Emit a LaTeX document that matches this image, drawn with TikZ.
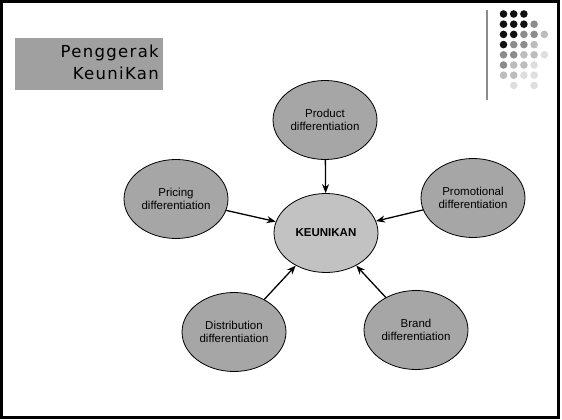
\documentclass[tikz,border=0pt]{standalone}
\usepackage{fontspec}
\setmainfont{Liberation Sans}
\newfontfamily\titlefont[LetterSpace=8]{DejaVu Sans}
\usetikzlibrary{shapes.geometric,arrows.meta}
\definecolor{ovalgray}{HTML}{A6A6A6}
\definecolor{coregray}{HTML}{C2C2C2}
\definecolor{boxgray}{HTML}{A0A0A0}
\definecolor{dotA}{HTML}{111111}
\definecolor{dotB}{HTML}{8C8C8C}
\definecolor{dotC}{HTML}{BDBDBD}
\definecolor{dotD}{HTML}{DEDEDE}
\tikzset{
  oval/.style={ellipse, draw=black, line width=0.8pt, fill=ovalgray,
    minimum width=104pt, minimum height=79pt, inner sep=0pt,
    align=center, font=\fontsize{11.5}{13.5}\selectfont},
  core/.style={oval, fill=coregray, font=\fontsize{11.5}{13.5}\selectfont\bfseries},
  link/.style={-{Stealth[length=9pt,width=7pt]}, line width=1.3pt},
  pix/.style={circle, inner sep=0pt, minimum size=7.6pt},
  headline/.style={anchor=base east, inner sep=0pt, font=\titlefont\fontsize{16.5}{22}\selectfont}
}
\begin{document}
\begin{tikzpicture}[x=1pt,y=-1pt]
\useasboundingbox (0,0) rectangle (562,420);
% slide frame
\draw[line width=3.2pt] (1.6,1.6) rectangle (558.4,417.6);
% title block
\node[fill=boxgray, minimum width=148pt, minimum height=52pt, inner sep=0pt]
  (titlebox) at (89,64) {};
\node[headline] (title1) at (159,58) {Penggerak};
\node[headline] (title2) at (159,80) {KeuniKan};
% corner ornament
\draw[color=dotB, line width=1.4pt] (487,10) coordinate (rulA) -- (487,100) coordinate (rulB);
\foreach \row/\cols in {
  0/{1/dotA,2/dotA,3/dotA},
  1/{1/dotA,2/dotA,3/dotA,4/dotB},
  2/{1/dotA,2/dotA,3/dotB,4/dotB,5/dotC},
  3/{1/dotA,2/dotB,3/dotB,4/dotC},
  4/{1/dotB,2/dotB,3/dotC,4/dotC,5/dotD},
  5/{1/dotB,2/dotC,3/dotC,4/dotD},
  6/{1/dotC,2/dotC,3/dotD,4/dotD},
  7/{2/dotD,4/dotD}}{
  \foreach \c/\col in \cols {
    \node[pix, fill=\col] (d\row-\c) at ({493.3+10.2*\c},{14+10.2*\row}) {};
  }
}
% diagram
\node[core] (keu) at (326,233) {KEUNIKAN};
\node[oval] (prod) at (325,120) {Product\\differentiation};
\node[oval] (price) at (176,199) {Pricing\\differentiation};
\node[oval] (promo) at (473,198) {Promotional\\differentiation};
\node[oval] (dist) at (234,332) {Distribution\\differentiation};
\node[oval] (brand) at (416,330) {Brand\\differentiation};
\draw[link] (prod) -- (keu);
\draw[link] (price) -- (keu);
\draw[link] (promo) -- (keu);
\draw[link] (dist) -- (keu);
\draw[link] (brand) -- (keu);
\end{tikzpicture}
\end{document}
